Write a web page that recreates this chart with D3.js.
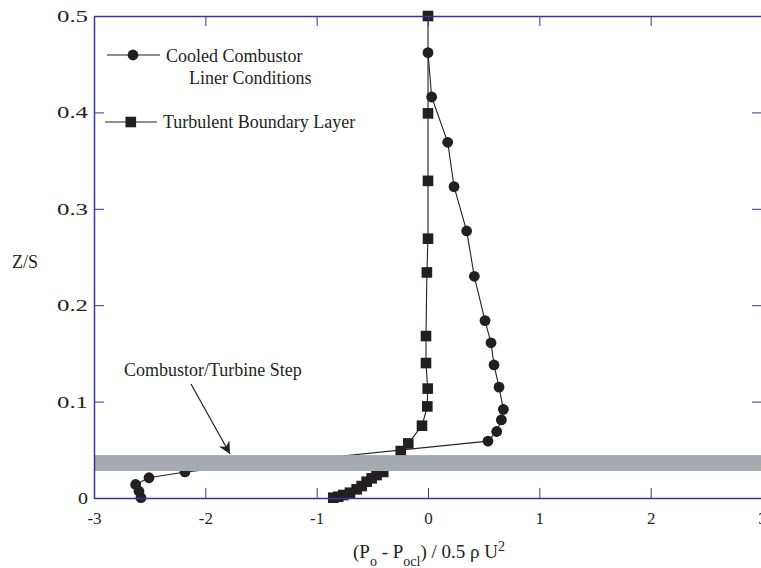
<!DOCTYPE html>
<html><head><meta charset="utf-8">
<script src="https://cdn.jsdelivr.net/npm/d3@7"></script>
<style>body{margin:0;background:#fff}svg{display:block}text{font-family:"Liberation Serif","Times New Roman",serif;fill:#231f20}</style>
</head><body><svg id="c" width="761" height="568"></svg>
<script>
// Cooled Combustor Liner Conditions (circles)
const cooledX = [0, 0.033, 0.177, 0.234, 0.347, 0.416, 0.512, 0.566, 0.593, 0.638, 0.677, 0.659, 0.617, 0.539, -2.183, -2.506, -2.626, -2.596, -2.578];
const cooledZ = [0.462, 0.416, 0.369, 0.323, 0.277, 0.230, 0.184, 0.161, 0.138, 0.115, 0.092, 0.081, 0.069, 0.059, 0.027, 0.021, 0.014, 0.007, 0.0003];
// Turbulent Boundary Layer (squares)
const turbX = [0, 0, 0, 0, -0.01, -0.018, -0.018, -0.003, -0.006, -0.054, -0.177, -0.245, -0.402, -0.462, -0.506, -0.551, -0.596, -0.641, -0.701, -0.761, -0.806, -0.851];
const turbZ = [0.5, 0.399, 0.329, 0.269, 0.234, 0.168, 0.140, 0.1135, 0.095, 0.075, 0.0566, 0.0487, 0.027, 0.0238, 0.0204, 0.0169, 0.0124, 0.009, 0.0055, 0.0031, 0.0013, 0.0003];
const xTicks = [-3, -2, -1, 0, 1, 2, 3];
const yTicks = [0, 0.1, 0.2, 0.3, 0.4, 0.5];
const stepBand = [0.028, 0.0445];
const legendLabels = [["Cooled Combustor", "Liner Conditions"], ["Turbulent Boundary Layer"]];
const stepLabel = "Combustor/Turbine Step";

const svg = d3.select("#c");
const L = 94, R = 762, T = 16, B = 498;
const x = d3.scaleLinear().domain([-3, 3]).range([L, R]);
const y = d3.scaleLinear().domain([0, 0.5]).range([B, T]);
const axisCol = "#35379a", ink = "#231f20";

const cooled = cooledX.map((v, i) => [v, cooledZ[i]]);
const turb = turbX.map((v, i) => [v, turbZ[i]]);
const line = d3.line().x(d => x(d[0])).y(d => y(d[1]));

const gData = svg.append("g");
gData.append("path").attr("d", line(turb)).attr("fill", "none").attr("stroke", ink).attr("stroke-width", 1.1);
gData.append("path").attr("d", line(cooled)).attr("fill", "none").attr("stroke", ink).attr("stroke-width", 1.1);
gData.selectAll("rect.sq").data(turb).join("rect").attr("class", "sq")
  .attr("x", d => x(d[0]) - 5.3).attr("y", d => y(d[1]) - 5.3).attr("width", 10.6).attr("height", 10.6).attr("fill", ink);
gData.selectAll("circle.ci").data(cooled).join("circle").attr("class", "ci")
  .attr("cx", d => x(d[0])).attr("cy", d => y(d[1])).attr("r", 5.4).attr("fill", ink);

// step band (drawn over data)
svg.append("rect").attr("x", L).attr("width", R - L)
  .attr("y", y(stepBand[1])).attr("height", y(stepBand[0]) - y(stepBand[1])).attr("fill", "#a6abb0");

// axes
const tl = 10;
const gx = svg.append("g").attr("transform", `translate(0,${B})`)
  .call(d3.axisBottom(x).tickValues(xTicks).tickSizeInner(-tl).tickSizeOuter(0).tickPadding(14).tickFormat(d => d < 0 ? "-" + Math.abs(d) : String(d)));
const gxt = svg.append("g").attr("transform", `translate(0,${T})`)
  .call(d3.axisTop(x).tickValues(xTicks).tickSizeInner(-tl).tickSizeOuter(0).tickFormat(""));
const gy = svg.append("g").attr("transform", `translate(${L},0)`)
  .call(d3.axisLeft(y).tickValues(yTicks).tickSizeInner(-tl).tickSizeOuter(0).tickPadding(6).tickFormat(d => d === 0 ? "0" : d3.format(".1f")(d)));
const gyr = svg.append("g").attr("transform", `translate(${R},0)`)
  .call(d3.axisRight(y).tickValues(yTicks).tickSizeInner(-tl).tickSizeOuter(0).tickFormat(""));
[gx, gxt, gy, gyr].forEach(g => {
  g.select(".domain").attr("stroke", axisCol).attr("stroke-width", 1.5);
  g.selectAll(".tick line").attr("stroke", axisCol).attr("stroke-width", 1);
  g.selectAll(".tick text").attr("fill", ink).style("font-size", "17px").style("font-family", "'Liberation Serif',serif");
});
gy.selectAll(".tick text").filter(d => d !== 0).attr("textLength", 31).attr("lengthAdjust", "spacingAndGlyphs");
gy.selectAll(".tick text").filter(d => d === 0).attr("textLength", 10).attr("lengthAdjust", "spacingAndGlyphs");

// axis titles
svg.append("text").attr("x", 12).attr("y", 268).style("font-size", "18px").attr("textLength", 26).attr("lengthAdjust", "spacingAndGlyphs").text("Z/S");
const xl = svg.append("text").attr("x", 353).attr("y", 558).style("font-size", "19px");
xl.append("tspan").text("(P");
xl.append("tspan").attr("dy", 8).style("font-size", "14px").text("o");
xl.append("tspan").attr("dy", -8).text(" - P");
xl.append("tspan").attr("dy", 8).style("font-size", "14px").text("ocl");
xl.append("tspan").attr("dy", -8).text(") / 0.5 ρ U");
xl.append("tspan").attr("dy", -7).style("font-size", "14px").text("2");

// legend
const lg = svg.append("g");
lg.append("line").attr("x1", 107).attr("x2", 160).attr("y1", 55).attr("y2", 55).attr("stroke", ink).attr("stroke-width", 1.2);
lg.append("circle").attr("cx", 133).attr("cy", 55).attr("r", 5.4).attr("fill", ink);
lg.append("text").attr("x", 166).attr("y", 62).style("font-size", "18px").text(legendLabels[0][0]);
lg.append("text").attr("x", 189).attr("y", 84).style("font-size", "18px").text(legendLabels[0][1]);
lg.append("line").attr("x1", 105).attr("x2", 157).attr("y1", 122).attr("y2", 122).attr("stroke", ink).attr("stroke-width", 1.2);
lg.append("rect").attr("x", 125.5).attr("y", 116.7).attr("width", 10.6).attr("height", 10.6).attr("fill", ink);
lg.append("text").attr("x", 163).attr("y", 128).style("font-size", "18px").text(legendLabels[1][0]);

// annotation
svg.append("text").attr("x", 124).attr("y", 376).style("font-size", "18px").text(stepLabel);
svg.append("defs").append("marker").attr("id", "ah").attr("viewBox", "0 0 10 10").attr("refX", 10).attr("refY", 5)
  .attr("markerWidth", 16).attr("markerHeight", 12).attr("markerUnits", "userSpaceOnUse").attr("orient", "auto")
  .append("path").attr("d", "M0,0 L10,5 L0,10 L3,5 Z").attr("fill", ink);
svg.append("line").attr("x1", 191).attr("y1", 384).attr("x2", 230).attr("y2", 454)
  .attr("stroke", ink).attr("stroke-width", 1.2).attr("marker-end", "url(#ah)");
</script></body></html>
